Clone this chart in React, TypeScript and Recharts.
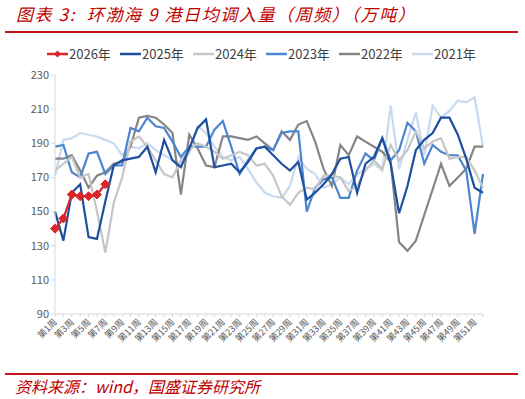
import React from "react";
import { LineChart, Line, XAxis, YAxis } from "recharts";

const weekLabels: string[] = Array.from({ length: 52 }, (_, i) => `第${i + 1}周`);

const s2026: (number | null)[] = [140, 146, 160, 159, 159, 160, 166];
const s2025: number[] = [150, 133, 161, 166, 135, 134, 156, 177, 180, 181, 182, 188, 173, 192, 180, 176, 187, 199, 204, 176, 177, 178, 173, 179, 187, 188, 183, 178, 174, 179, 157, 161, 166, 172, 181, 182, 161, 178, 182, 193, 178, 149, 165, 186, 192, 196, 205, 205, 195, 181, 164, 161];
const s2024: number[] = [174, 178, 182, 170, 172, 150, 126, 155, 170, 191, 194, 188, 180, 172, 170, 180, 186, 190, 188, 185, 181, 183, 185, 183, 177, 178, 171, 159, 154, 161, 164, 163, 171, 171, 170, 162, 165, 174, 180, 175, 189, 180, 186, 197, 187, 191, 193, 181, 182, 182, 174, 164];
const s2023: number[] = [188, 189, 173, 170, 184, 185, 172, 177, 177, 199, 197, 205, 200, 199, 191, 182, 188, 188, 188, 198, 203, 188, 172, 180, 187, 188, 186, 196, 197, 197, 150, 164, 169, 170, 158, 158, 174, 184, 180, 193, 180, 186, 202, 197, 178, 189, 185, 183, 183, 174, 137, 172];
const s2022: number[] = [181, 181, 183, 174, 164, 171, 173, 178, 179, 188, 205, 206, 205, 201, 196, 160, 195, 187, 177, 176, 194, 194, 193, 192, 194, 190, 186, 197, 192, 201, 203, 191, 175, 165, 189, 183, 194, 191, 188, 185, 179, 132, 127, 133, 148, 163, 178, 165, 170, 175, 188, 188];
const s2021: number[] = [171, 192, 193, 196, 195, 194, 192, 190, 183, 188, 187, 190, 186, 183, 180, 178, 184, 200, 196, 188, 182, 180, 182, 175, 167, 161, 159, 158, 165, 182, 175, 172, 164, 166, 170, 166, 172, 175, 178, 174, 212, 175, 192, 208, 183, 212, 205, 209, 215, 214, 217, 188];

const yTicks: number[] = [90, 110, 130, 150, 170, 190, 210, 230];

const seriesMeta = [
  { key: "y2026", name: "2026年", color: "#d9262b", width: 2.2 },
  { key: "y2025", name: "2025年", color: "#1d4f9e", width: 2.2 },
  { key: "y2024", name: "2024年", color: "#c6c6c6", width: 2.2 },
  { key: "y2023", name: "2023年", color: "#4d86d0", width: 2.2 },
  { key: "y2022", name: "2022年", color: "#858585", width: 2.2 },
  { key: "y2021", name: "2021年", color: "#c7daf0", width: 2.2 },
];

const data = weekLabels.map((w, i) => ({
  week: w,
  y2026: i < s2026.length ? s2026[i] : null,
  y2025: s2025[i],
  y2024: s2024[i],
  y2023: s2023[i],
  y2022: s2022[i],
  y2021: s2021[i],
}));

const cjk = '"Noto Sans CJK SC", "Noto Sans", sans-serif';

const WeekTick = (props: any) => {
  const { x, y, payload, index } = props;
  if (index % 2 !== 0) return null;
  const ax = x + 1;
  const ay = y + 2;
  return (
    <text
      x={ax}
      y={ay}
      transform={`rotate(-45, ${ax}, ${ay})`}
      textAnchor="end"
      dominantBaseline="middle"
      fontSize={9}
      fill="#595959"
      fontFamily={cjk}
    >
      {payload.value}
    </text>
  );
};

const Diamond = (props: any) => {
  const { cx, cy } = props;
  if (cx == null || cy == null || props.value == null) return null;
  const r = 4.5;
  return (
    <polygon
      points={`${cx},${cy - r} ${cx + r},${cy} ${cx},${cy + r} ${cx - r},${cy}`}
      fill="#d9262b"
      stroke="#d9262b"
    />
  );
};

export default function App() {
  const drawOrder = [...seriesMeta].reverse();
  return (
    <div style={{ position: "absolute", left: 0, top: 0, width: 525, height: 399, background: "#fff", fontFamily: cjk }}>
      <div
        style={{
          position: "absolute",
          left: 16,
          top: 3,
          fontSize: 17,
          letterSpacing: 1.6,
          color: "#c00000",
          fontStyle: "italic",
          whiteSpace: "nowrap",
          lineHeight: "22px",
        }}
      >
        图表 3:&nbsp;&nbsp;环渤海 9 港日均调入量（周频）（万吨）
      </div>
      <div style={{ position: "absolute", left: 5, top: 31, width: 513, height: 2, background: "#c8161d" }} />
      <div style={{ position: "absolute", left: 0, top: 44, width: 525, height: 20 }}>
        {seriesMeta.map((s, i) => (
          <div
            key={s.key}
            style={{ position: "absolute", left: 47 + i * 73, top: 0, height: 20, display: "flex", alignItems: "center" }}
          >
            <svg width={21} height={20}>
              <line x1={0} y1={10} x2={21} y2={10} stroke={s.color} strokeWidth={2.5} />
              {s.key === "y2026" && <polygon points="10.5,6.5 14,10 10.5,13.5 7,10" fill={s.color} />}
            </svg>
            <span style={{ fontSize: 13, color: "#404040", marginLeft: 1, lineHeight: "20px" }}>{s.name}</span>
          </div>
        ))}
      </div>
      <div style={{ position: "absolute", left: 0, top: 0 }}>
        <LineChart width={525} height={399} data={data} margin={{ top: 75, right: 42, bottom: 25, left: 15 }}>
          <XAxis
            dataKey="week"
            interval={0}
            tick={<WeekTick />}
            tickSize={3}
            height={60}
            axisLine={{ stroke: "#d9d9d9" }}
            tickLine={{ stroke: "#d9d9d9" }}
          />
          <YAxis
            domain={[90, 230]}
            ticks={yTicks}
            width={40}
            tickSize={4}
            tick={{ fontSize: 11, fill: "#595959", fontFamily: cjk }}
            axisLine={{ stroke: "#d9d9d9" }}
            tickLine={{ stroke: "#d9d9d9" }}
            interval={0}
          />
          {drawOrder.map((s) => (
            <Line
              key={s.key}
              type="linear"
              dataKey={s.key}
              name={s.name}
              stroke={s.color}
              strokeWidth={s.width}
              dot={s.key === "y2026" ? <Diamond /> : false}
              activeDot={false}
              isAnimationActive={false}
              connectNulls={false}
            />
          ))}
        </LineChart>
      </div>
      <div style={{ position: "absolute", left: 5, top: 373, width: 513, height: 2, background: "#c8161d" }} />
      <div
        style={{
          position: "absolute",
          left: 15,
          top: 375,
          fontSize: 16,
          color: "#c00000",
          fontStyle: "italic",
          whiteSpace: "nowrap",
          lineHeight: "22px",
        }}
      >
        资料来源：wind，国盛证券研究所
      </div>
    </div>
  );
}
